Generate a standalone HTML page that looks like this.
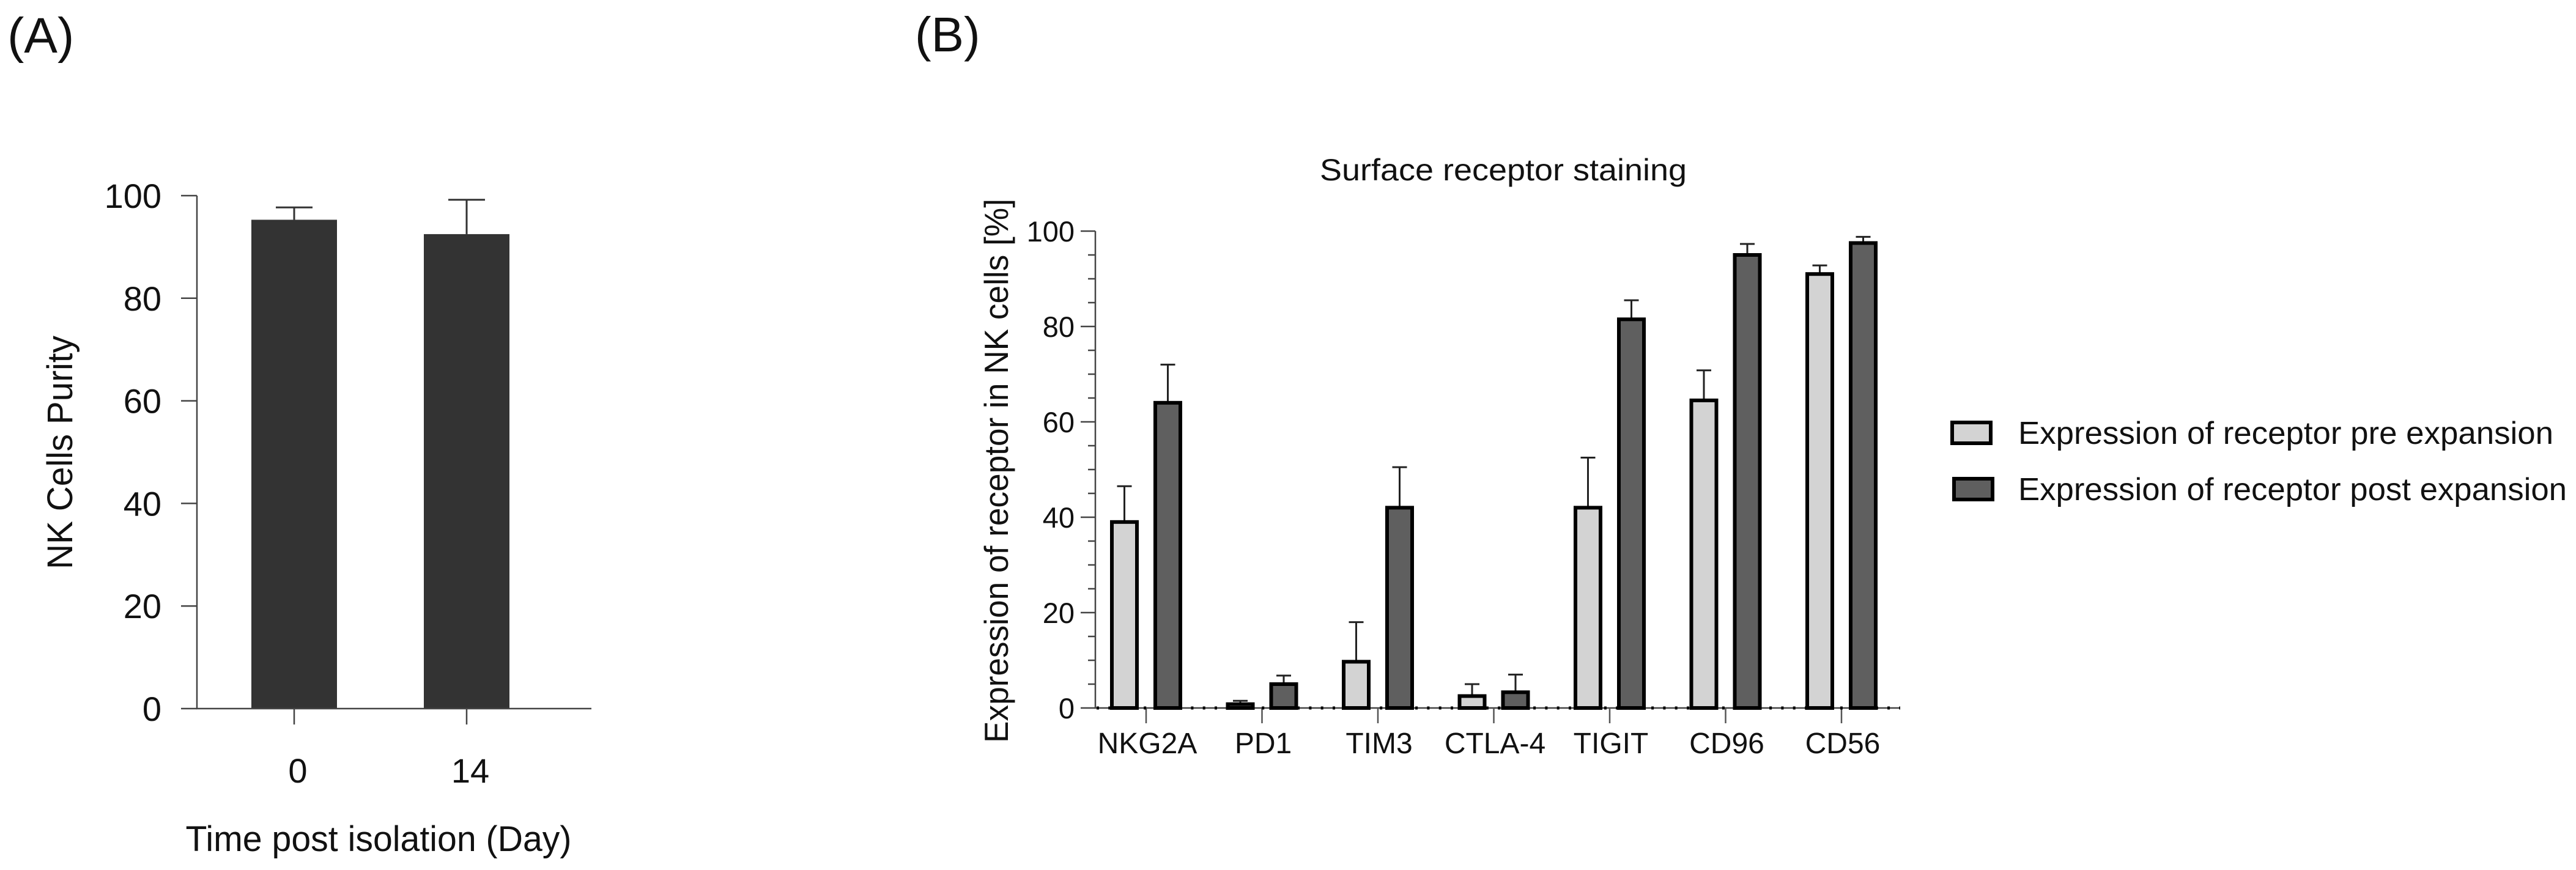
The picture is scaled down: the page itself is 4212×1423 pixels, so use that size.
<!DOCTYPE html>
<html><head><meta charset="utf-8">
<style>
html,body{margin:0;padding:0;background:#fff;}
svg{display:block;font-family:"Liberation Sans",Arial,sans-serif;}
</style></head>
<body>
<svg id="fig" width="4212" height="1423" viewBox="0 0 4212 1423" xmlns="http://www.w3.org/2000/svg">
  <rect width="4212" height="1423" fill="#fff"/>
  <text x="12" y="86" font-size="82" fill="#111">(A)</text>
  <text x="1496" y="84" font-size="80" fill="#111">(B)</text>
  <g id="chartA"></g>
  <g id="chartB"></g>
</svg>
<script>
// ---------- Panel A data ----------
const aCategories = ["0", "14"];
const aValues = [95.3, 92.5];
const aErrors = [97.7, 99.2];
const aTicks = [0, 20, 40, 60, 80, 100];

// ---------- Panel B data ----------
const bCategories = ["NKG2A", "PD1", "TIM3", "CTLA-4", "TIGIT", "CD96", "CD56"];
const bPre = [39, 0.8, 9.7, 2.5, 42, 64.5, 91];
const bPreErr = [46.5, 1.5, 18, 5, 52.5, 70.8, 92.8];
const bPost = [64, 5, 42, 3.3, 81.5, 95, 97.5];
const bPostErr = [72, 6.8, 50.5, 7, 85.5, 97.3, 98.8];
const bTicks = [0, 20, 40, 60, 80, 100];
const bSeries = ["Expression of receptor pre expansion", "Expression of receptor post expansion"];

const NS = "http://www.w3.org/2000/svg";
function mk(parent, tag, attrs, text) {
  const e = document.createElementNS(NS, tag);
  for (const k in attrs) e.setAttribute(k, attrs[k]);
  if (text !== undefined) e.textContent = text;
  parent.appendChild(e);
  return e;
}

// ---------- Panel A ----------
(function () {
  const g = document.getElementById("chartA");
  const x0 = 322, xEnd = 967, yTop = 320, yBot = 1159;
  const y = v => yBot - (v / 100) * (yBot - yTop);
  const cx = i => 481 + i * 282;
  const bw = 140;
  aCategories.forEach((c, i) => {
    const r = mk(g, "rect", { x: cx(i) - bw / 2, y: y(aValues[i]), width: bw, height: yBot - y(aValues[i]), fill: "#333333" });
    
    
    const el = mk(g, "line", { x1: cx(i), x2: cx(i), y1: y(aValues[i]), y2: y(aErrors[i]), stroke: "#333", "stroke-width": 3 });
    
    
    const ec = mk(g, "line", { x1: cx(i) - 30, x2: cx(i) + 30, y1: y(aErrors[i]), y2: y(aErrors[i]), stroke: "#333", "stroke-width": 3 });
    
    
    const t = mk(g, "line", { x1: cx(i), x2: cx(i), y1: yBot, y2: yBot + 26, stroke: "#444", "stroke-width": 2.5 });
    
    
    const tl = mk(g, "text", { x: cx(i) + 6, y: 1280, "font-size": 56, "text-anchor": "middle", fill: "#111" }, c);
    
    
  });
  const ax = mk(g, "path", { d: `M${x0},${yTop} V${yBot} H${xEnd}`, fill: "none", stroke: "#444", "stroke-width": 2.5 });
  
  
  aTicks.forEach(v => {
    const t = mk(g, "line", { x1: x0 - 26, x2: x0, y1: y(v), y2: y(v), stroke: "#444", "stroke-width": 2.5 });
    
    
    const l = mk(g, "text", { x: 264, y: y(v) + 20, "font-size": 56, "text-anchor": "end", fill: "#111" }, String(v));
    
    
  });
  const yl = mk(g, "text", { x: 0, y: 0, "font-size": 58, "text-anchor": "middle", fill: "#111", textLength: 382, lengthAdjust: "spacingAndGlyphs", transform: "translate(118,740) rotate(-90)" }, "NK Cells Purity");
  
  
  const xl = mk(g, "text", { x: 619, y: 1392, "font-size": 58, "text-anchor": "middle", fill: "#111", textLength: 631, lengthAdjust: "spacingAndGlyphs" }, "Time post isolation (Day)");
  
  
})();

// ---------- Panel B ----------
(function () {
  const g = document.getElementById("chartB");
  const x0 = 1791, xEnd = 3107, yTop = 378, yBot = 1158;
  const y = v => yBot - (v / 100) * (yBot - yTop);
  const cx = i => 1874 + i * 189.5;
  const bw = 41, off = 35.5;
  for (let v = 5; v < 100; v += 5) {
    if (v % 20 === 0) continue;
    const t = mk(g, "line", { x1: x0 - 12, x2: x0, y1: y(v), y2: y(v), stroke: "#444", "stroke-width": 2.5 });
    
    
  }
  bTicks.forEach(v => {
    const t = mk(g, "line", { x1: x0 - 24, x2: x0, y1: y(v), y2: y(v), stroke: "#444", "stroke-width": 2.5 });
    
    
    const l = mk(g, "text", { x: 1757, y: y(v) + 17, "font-size": 47, "text-anchor": "end", fill: "#111" }, String(v));
    
    
  });
  const ax = mk(g, "path", { d: `M${x0},${yTop} V${yBot} H${xEnd}`, fill: "none", stroke: "#444", "stroke-width": 2.5 });
  
  

  function drawBar(cxv, val, err, fill, name) {
    const ec = mk(g, "line", { x1: cxv, x2: cxv, y1: y(val), y2: y(err), stroke: "#222", "stroke-width": 3 });
    
    
    const cap = mk(g, "line", { x1: cxv - 12, x2: cxv + 12, y1: y(err), y2: y(err), stroke: "#222", "stroke-width": 3 });
    
    
    const r = mk(g, "rect", { x: cxv - bw / 2, y: y(val), width: bw, height: Math.max(yBot - y(val), 1), fill: fill, stroke: "#000", "stroke-width": 6 });
    
    
  }
  bCategories.forEach((c, i) => {
    drawBar(cx(i) - off, bPre[i], bPreErr[i], "#d3d3d3", 'bar-pre-' + c.toLowerCase());
    drawBar(cx(i) + off, bPost[i], bPostErr[i], "#5f5f5f", 'bar-post-' + c.toLowerCase());
    const t = mk(g, "line", { x1: cx(i), x2: cx(i), y1: yBot, y2: yBot + 25, stroke: "#555", "stroke-width": 2.5 });
    
    
    const l = mk(g, "text", { x: cx(i) + 2, y: 1232, "font-size": 48, "text-anchor": "middle", fill: "#111" }, c);
    
    
  });
  const dl = mk(g, "line", { x1: x0 + 2, x2: xEnd, y1: yBot, y2: yBot, stroke: "#000", "stroke-width": 5, "stroke-dasharray": "4 15.3" });
  
  

  const title = mk(g, "text", { x: 2458, y: 295, "font-size": 50, "text-anchor": "middle", fill: "#111", textLength: 600, lengthAdjust: "spacingAndGlyphs" }, "Surface receptor staining");
  
  
  const yl = mk(g, "text", { x: 0, y: 0, "font-size": 55, "text-anchor": "middle", fill: "#111", textLength: 890, lengthAdjust: "spacingAndGlyphs", transform: "translate(1648,770) rotate(-90)" }, "Expression of receptor in NK cells [%]");
  
  

  const fills = ["#d3d3d3", "#5f5f5f"];
  const ly = [708, 800];
  const lbx = [3192, 3195];
  const lens = [875, 897];
  bSeries.forEach((s, i) => {
    const sw = mk(g, "rect", { x: lbx[i], y: ly[i] - 17, width: 63, height: 34, fill: fills[i], stroke: "#000", "stroke-width": 6 });
    
    
    const t = mk(g, "text", { x: 3300, y: ly[i] + 18, "font-size": 52, fill: "#111", textLength: lens[i], lengthAdjust: "spacingAndGlyphs" }, s);
    
    
  });
})();
</script>
</body></html>
